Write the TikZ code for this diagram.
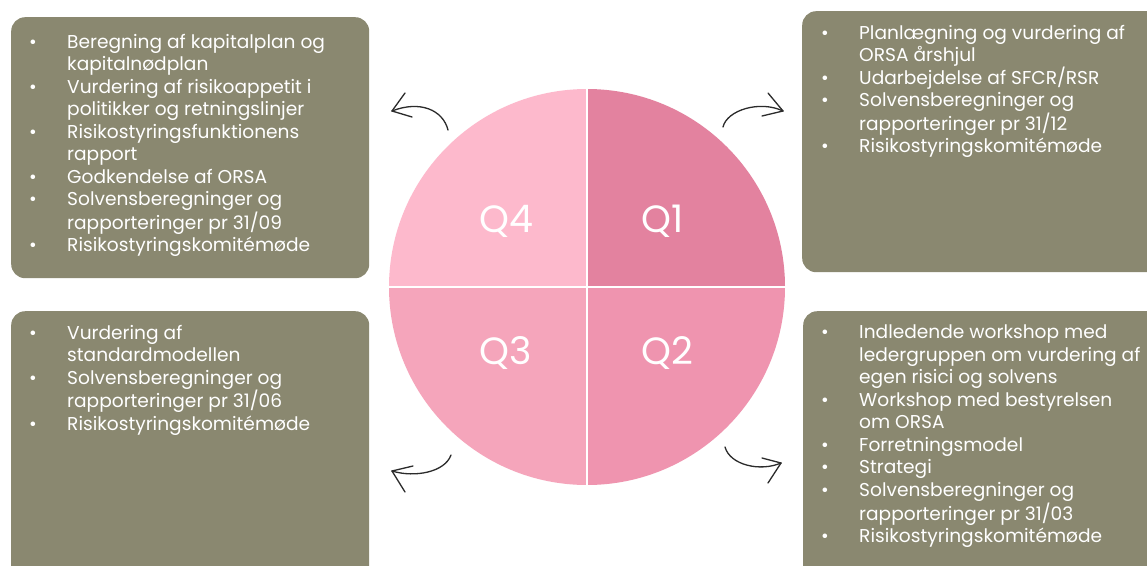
\documentclass[tikz,border=0pt]{standalone}
\usepackage{fontspec}
\setmainfont{Poppins}
\definecolor{boxc}{HTML}{8A8870}
\definecolor{qone}{HTML}{E3829F}
\definecolor{qtwo}{HTML}{EF94AF}
\definecolor{qthree}{HTML}{F5A5BB}
\definecolor{qfour}{HTML}{FDB9CC}
\definecolor{ink}{HTML}{2B2B2B}
\newcommand\bul{\makebox[38pt][l]{\textbullet}}
\newcommand\cnt{\hspace*{38pt}}
\tikzset{
  box/.style={draw=none, fill=boxc, rounded corners=14pt, anchor=north west, inner sep=0pt},
  listtext/.style={anchor=north west, inner sep=0pt, align=left, text=white, font=\fontsize{18.6}{22.5}\selectfont},
  qlabel/.style={text=white, font=\fontsize{38}{40}\selectfont, inner sep=0pt},
  hand/.style={draw=ink, line width=1.3pt, line cap=round, line join=round},
}
\begin{document}
\begin{tikzpicture}[x=1pt, y=-1pt]
\useasboundingbox (0,0) rectangle (1147,565);
\clip (0,0) rectangle (1147,565);
\fill[white] (0,0) rectangle (1147,565);

% boxes
\node[box, minimum width=358pt, minimum height=261pt] (b4) at (11,17) {};
\node[box, minimum width=360pt, minimum height=261pt] (b1) at (802,11) {};
\node[box, minimum width=358pt, minimum height=270pt] (b3) at (11,311) {};
\node[box, minimum width=360pt, minimum height=270pt] (b2) at (803,311) {};

% texts
\node[listtext] (t4) at (29,34) {\bul Beregning af kapitalplan og\\
\cnt kapitalnødplan\\
\bul Vurdering af risikoappetit i\\
\cnt politikker og retningslinjer\\
\bul Risikostyringsfunktionens\\
\cnt rapport\\
\bul Godkendelse af ORSA\\
\bul Solvensberegninger og\\
\cnt rapporteringer pr 31/09\\
\bul Risikostyringskomitémøde};

\node[listtext] (t1) at (821,25) {\bul Planlægning og vurdering af\\
\cnt ORSA årshjul\\
\bul Udarbejdelse af SFCR/RSR\\
\bul Solvensberegninger og\\
\cnt rapporteringer pr 31/12\\
\bul Risikostyringskomitémøde};

\node[listtext] (t3) at (29,325) {\bul Vurdering af\\
\cnt standardmodellen\\
\bul Solvensberegninger og\\
\cnt rapporteringer pr 31/06\\
\bul Risikostyringskomitémøde};

\node[listtext] (t2) at (821,325) {\bul Indledende workshop med\\
\cnt ledergruppen om vurdering af\\
\cnt egen risici og solvens\\
\bul Workshop med bestyrelsen\\
\cnt om ORSA\\
\bul Forretningsmodel\\
\bul Strategi\\
\bul Solvensberegninger og\\
\cnt rapporteringer pr 31/03\\
\bul Risikostyringskomitémøde};

% circle (radius given in pt: angles are in page orientation)
\coordinate (c) at (587,287);
\fill[qone] (c) -- ++(198,0) arc[start angle=0, end angle=90, radius=198pt] -- cycle;
\fill[qtwo] (c) -- ++(198,0) arc[start angle=0, end angle=-90, radius=198pt] -- cycle;
\fill[qthree] (c) -- ++(-198,0) arc[start angle=180, end angle=270, radius=198pt] -- cycle;
\fill[qfour] (c) -- ++(-198,0) arc[start angle=180, end angle=90, radius=198pt] -- cycle;
\draw[white, line width=1.8pt] (587,88) -- (587,486);
\draw[white, line width=1.8pt] (388,287) -- (786,287);

\node[qlabel] (q4) at (506,221) {Q4};
\node[qlabel] (q1) at (663,221) {Q1};
\node[qlabel] (q3) at (506,353) {Q3};
\node[qlabel] (q2) at (667,353) {Q2};

% hand arrows
\coordinate (a4s) at (448,130); \coordinate (a4t) at (392,111);
\coordinate (a1s) at (723,127); \coordinate (a1t) at (783,111);
\coordinate (a3s) at (451,455); \coordinate (a3t) at (392,471);
\coordinate (a2s) at (725,447); \coordinate (a2t) at (781,463);

\draw[hand] (a4s) .. controls (443,110) and (420,100) .. (a4t);
\draw[hand] (a4t) -- (405,93);
\draw[hand] (a4t) -- (412,117);

\draw[hand] (a1s) .. controls (727,110) and (760,100) .. (a1t);
\draw[hand] (a1t) -- (768,93);
\draw[hand] (a1t) -- (762,116);

\draw[hand] (a3s) .. controls (445,472) and (415,478) .. (a3t);
\draw[hand] (a3t) -- (413,466);
\draw[hand] (a3t) -- (405,492);

\draw[hand] (a2s) .. controls (730,465) and (760,472) .. (a2t);
\draw[hand] (a2t) -- (762,458);
\draw[hand] (a2t) -- (768,483);
\end{tikzpicture}
\end{document}
